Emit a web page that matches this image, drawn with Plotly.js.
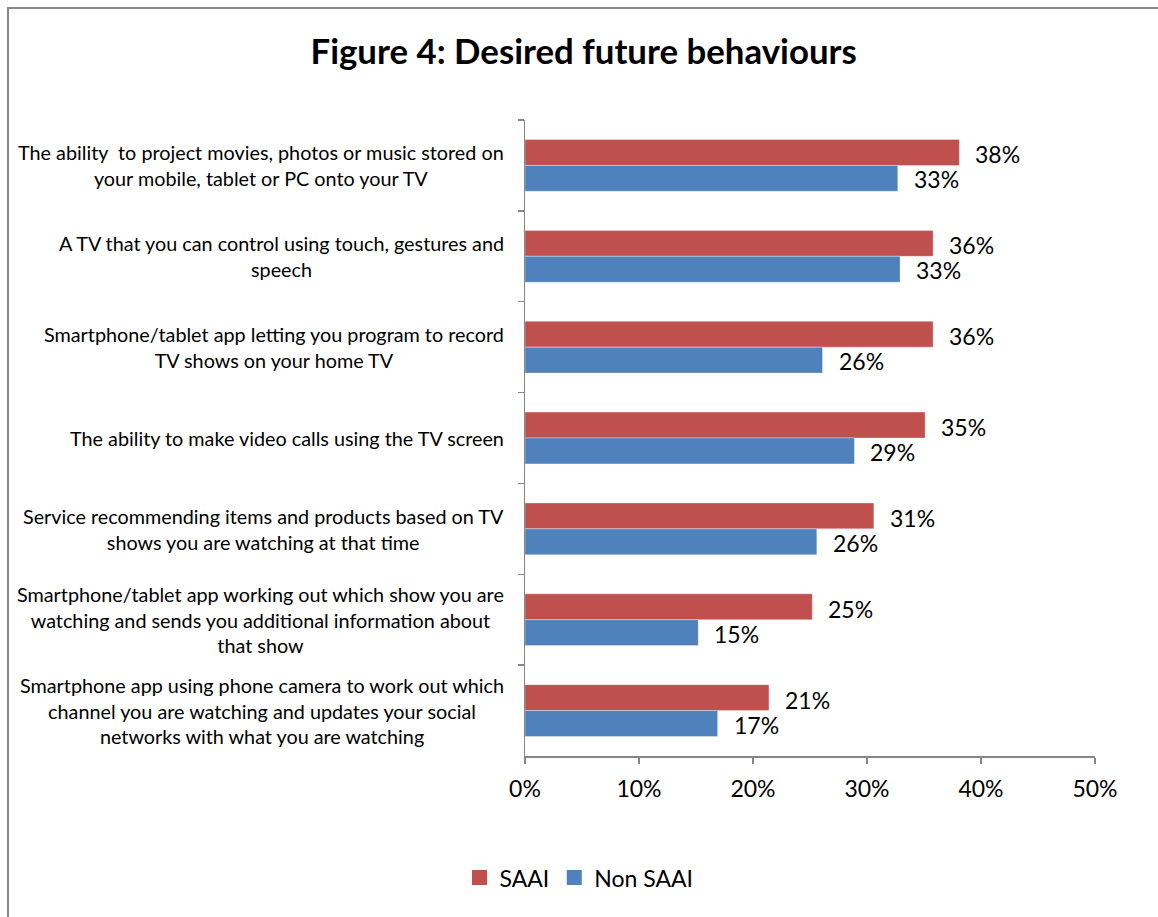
<!DOCTYPE html>
<html>
<head>
<meta charset="utf-8">
<script src="https://cdn.plot.ly/plotly-3.0.1.min.js"></script>
<style>
  html, body { margin: 0; padding: 0; background: #ffffff; }
  #chart { width: 1158px; height: 917px; }
</style>
</head>
<body>
<div id="chart"></div>
<script>
const categories = [
  "The ability  to project movies, photos or music stored on<br>your mobile, tablet or PC onto your TV",
  "A TV that you can control using touch, gestures and<br>speech",
  "Smartphone/tablet app letting you program to record<br>TV shows on your home TV",
  "The ability to make video calls using the TV screen",
  "Service recommending items and products based on TV<br>shows you are watching at that time",
  "Smartphone/tablet app working out which show you are<br>watching and sends you additional information about<br>that show",
  "Smartphone app using phone camera to work out which<br>channel you are watching and updates your social<br>networks with what you are watching"
];
const seriesNames = ["SAAI", "Non SAAI"];
const saai    = [38.1, 35.8, 35.8, 35.1, 30.6, 25.2, 21.4];
const nonSaai = [32.7, 32.9, 26.1, 28.9, 25.6, 15.2, 16.9];
const xTickVals = [0, 10, 20, 30, 40, 50];
const xTickText = ["0%", "10%", "20%", "30%", "40%", "50%"];

const FONT = "Lato, 'Open Sans', sans-serif";
const colors = ["#C0504D", "#4F81BD"];
const ids = categories.map((c, i) => "c" + i);
const seriesData = [saai, nonSaai];

const traces = [];
seriesData.forEach((arr, s) => {
  traces.push({ type: "bar", orientation: "h", name: seriesNames[s], x: arr, y: ids,
    legendgroup: seriesNames[s], showlegend: false,
    marker: { color: colors[s], line: { color: "rgba(255,255,255,0.35)", width: 1 } }, hoverinfo: "x" });
});
seriesData.forEach((arr, s) => {
  traces.push({ type: "scatter", mode: "markers", name: seriesNames[s], x: [null], y: [null],
    legendgroup: seriesNames[s], showlegend: true,
    marker: { color: colors[s], symbol: "square", size: 15 } });
});

const annotations = [];
categories.forEach((c, i) => {
  annotations.push({ text: c, xref: "paper", yref: "y", x: -0.033, y: ids[i],
    xanchor: "right", yanchor: "middle", align: "center", showarrow: false,
    font: { family: FONT, size: 19.8, color: "#000" } });
});
seriesData.forEach((arr, s) => {
  arr.forEach((v, i) => {
    annotations.push({ text: Math.round(v) + "%", xref: "x", yref: "y", x: v, y: ids[i],
      xanchor: "left", yanchor: "middle", xshift: 14, yshift: s === 0 ? 11 : -14,
      showarrow: false, font: { family: FONT, size: 23, color: "#000" } });
  });
});

const layout = {
  width: 1158, height: 917,
  margin: { l: 525, r: 63, t: 120, b: 161, pad: 0 },
  paper_bgcolor: "#ffffff", plot_bgcolor: "#ffffff",
  font: { family: FONT, color: "#000" },
  title: { text: "<b>Figure 4: Desired future behaviours</b>", x: 0.504, xanchor: "center",
    y: 0.943, yanchor: "middle", font: { family: FONT, size: 34.8, color: "#000" } },
  barmode: "group", bargap: 0.43, bargroupgap: 0,
  xaxis: { range: [0, 50], tickvals: xTickVals, ticktext: xTickText, showgrid: false, zeroline: false,
    showline: true, linecolor: "#868686", linewidth: 1.5, ticks: "outside", ticklen: 6, tickcolor: "#868686",
    tickwidth: 1.5, ticklabelstandoff: 6, tickfont: { family: FONT, size: 23, color: "#000" }, fixedrange: true },
  yaxis: { type: "category", categoryorder: "array", categoryarray: ids, autorange: "reversed",
    showticklabels: false, showgrid: false, zeroline: false,
    showline: true, linecolor: "#868686", linewidth: 1.5, ticks: "outside", ticklen: 6, tickcolor: "#868686",
    tickwidth: 1.5, tickson: "boundaries", fixedrange: true },
  showlegend: true,
  legend: { orientation: "h", x: 0.5, xref: "container", xanchor: "center", y: 0.043, yref: "container", yanchor: "middle",
    font: { family: FONT, size: 23, color: "#000" }, itemwidth: 30, traceorder: "normal" },
  annotations: annotations,
  shapes: [
    { type: "rect", xref: "paper", yref: "paper", x0: -0.907, x1: 1.2, y0: -0.5, y1: 1.176,
      line: { color: "#888888", width: 2 }, fillcolor: "rgba(0,0,0,0)", layer: "below" }
  ]
};

Plotly.newPlot("chart", traces, layout, { displayModeBar: false, staticPlot: true });
</script>
</body>
</html>
